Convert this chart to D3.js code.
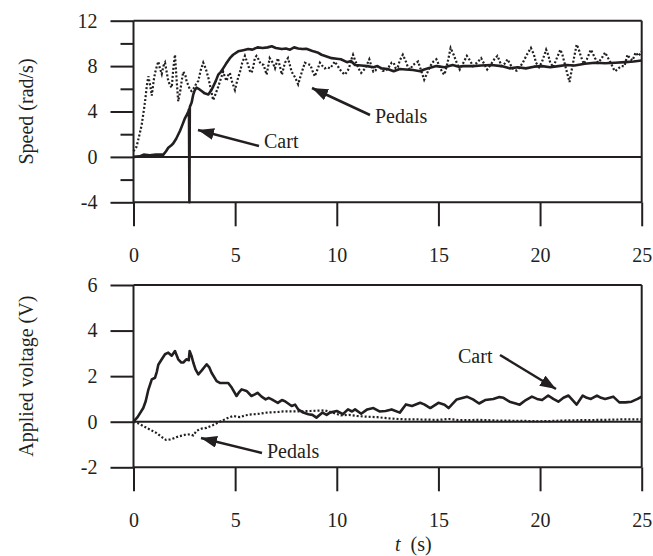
<!DOCTYPE html>
<html lang="en">
<head>
  <meta charset="UTF-8">
  <title>Speed and applied voltage vs time</title>
  <script src="https://d3js.org/d3.v7.min.js"></script>
  <style>
    body { margin: 0; background: #fff; }
    svg { display: block; }
    svg text { font-family: "Liberation Serif", "DejaVu Serif", "Times New Roman", serif !important; font-size: 20px; fill: #231f20; }
    .domain { display: none; }
    .tick line { stroke: #231f20; stroke-width: 2; }
  </style>
</head>
<body>
<div class="chart"></div>
<script>
  // time ticks shared by both panels
  const timeTicks = [0, 5, 10, 15, 20, 25];
  const speedTicks = [-4, 0, 4, 8, 12];
  const speedMinorTicks = [-2, 2, 6, 10];
  const voltTicks = [-2, 0, 2, 4, 6];

  // [t (s), speed (rad/s)]
  const speedCart = [
    [0, 0], [0.3, 0.05], [0.5, 0.2], [0.8, 0.15], [1.1, 0.2], [1.47, 0.2], [1.6, 0.5], [1.71, 0.8],
    [1.85, 1.0], [1.96, 1.2], [2.1, 1.6], [2.29, 2.3], [2.4, 2.8], [2.53, 3.4], [2.62, 3.7], [2.7, 4.0],
    [2.73, 4.2], [2.75, -4], [2.77, 4.4], [2.86, 4.8], [2.94, 5.5], [3.02, 5.9], [3.1, 6.1], [3.2, 6.0],
    [3.35, 5.8], [3.5, 5.6], [3.68, 5.5], [3.8, 5.8], [3.92, 6.2], [4.05, 6.7], [4.17, 7.25], [4.3, 7.5],
    [4.41, 7.8], [4.55, 8.2], [4.74, 8.7], [4.9, 9.0], [5.15, 9.3], [5.4, 9.4], [5.64, 9.5], [5.85, 9.45],
    [6.1, 9.65], [6.35, 9.6], [6.6, 9.65], [6.8, 9.75], [7.0, 9.6], [7.3, 9.5], [7.5, 9.55], [7.7, 9.45],
    [7.9, 9.65], [8.1, 9.55], [8.3, 9.5], [8.5, 9.52], [8.7, 9.4], [8.85, 9.3], [9.05, 9.2], [9.25, 9.0],
    [9.5, 8.85], [9.75, 8.7], [10.0, 8.65], [10.2, 8.6], [10.5, 8.35], [10.7, 8.45], [10.9, 8.1], [11.2, 8.05],
    [11.5, 8.0], [11.8, 7.9], [12.0, 8.0], [12.2, 7.8], [12.5, 7.75], [12.8, 7.55], [13.1, 7.75], [13.4, 7.7],
    [13.75, 7.65], [14.1, 7.55], [14.3, 7.7], [14.5, 7.8], [14.9, 8.0], [15.3, 7.9], [15.7, 8.1], [16.0, 7.95],
    [16.2, 8.0], [16.7, 8.0], [17.1, 8.05], [17.6, 8.1], [18.1, 8.0], [18.5, 7.8], [18.9, 7.9], [19.3, 7.8],
    [19.7, 7.95], [20.1, 8.0], [20.5, 7.9], [20.9, 8.0], [21.3, 8.1], [21.7, 8.05], [22.2, 8.2], [22.7, 8.3],
    [23.2, 8.25], [23.7, 8.3], [24.2, 8.35], [24.6, 8.4], [25.0, 8.5]
  ];
  const speedPedals = [
    [0, 0.5], [0.15, 0.9], [0.3, 2.0], [0.4, 2.8], [0.5, 4.0], [0.57, 4.9], [0.65, 6.2], [0.73, 7.1],
    [0.8, 6.5], [0.9, 5.4], [1.0, 6.8], [1.06, 7.4], [1.15, 8.0], [1.22, 8.4], [1.3, 7.8], [1.39, 7.3],
    [1.47, 8.0], [1.55, 8.3], [1.63, 7.5], [1.71, 6.7], [1.8, 6.3], [1.88, 6.1], [1.96, 7.8], [2.04, 9.0],
    [2.12, 6.8], [2.2, 4.9], [2.3, 5.8], [2.37, 6.7], [2.45, 7.5], [2.55, 7.2], [2.62, 6.6], [2.7, 6.3],
    [2.78, 5.9], [2.86, 5.8], [2.94, 6.0], [3.02, 6.2], [3.1, 6.5], [3.19, 6.7], [3.3, 7.6], [3.43, 8.3],
    [3.55, 7.8], [3.68, 7.0], [3.8, 6.0], [3.92, 5.0], [4.05, 5.6], [4.17, 6.2], [4.3, 6.9], [4.41, 7.5],
    [4.5, 7.0], [4.58, 6.7], [4.66, 7.2], [4.74, 7.4], [4.85, 6.6], [4.99, 5.9], [5.1, 6.7], [5.24, 7.5],
    [5.35, 8.3], [5.48, 8.9], [5.56, 8.5], [5.64, 8.1], [5.72, 7.6], [5.81, 7.4], [5.9, 8.0], [5.97, 8.7],
    [6.05, 8.9], [6.15, 8.6], [6.25, 8.2], [6.4, 8.1], [6.55, 7.25], [6.7, 8.7], [6.85, 8.3], [6.96, 7.8],
    [7.1, 8.7], [7.2, 8.0], [7.3, 7.25], [7.45, 8.3], [7.6, 8.7], [7.78, 7.5], [7.95, 7.0], [8.1, 6.4],
    [8.25, 7.3], [8.43, 8.3], [8.55, 8.2], [8.7, 8.1], [8.8, 7.6], [8.92, 7.1], [9.05, 7.7], [9.17, 8.3],
    [9.3, 8.0], [9.41, 7.8], [9.55, 7.9], [9.66, 7.8], [9.8, 8.1], [9.9, 8.4], [10.05, 8.0], [10.15, 7.7],
    [10.3, 7.4], [10.4, 7.25], [10.5, 7.5], [10.6, 7.8], [10.7, 8.5], [10.8, 9.0], [10.9, 8.5], [11.0, 8.1],
    [11.1, 7.7], [11.2, 7.4], [11.3, 7.6], [11.4, 7.8], [11.5, 8.2], [11.6, 8.6], [11.7, 8.0], [11.8, 7.5],
    [11.9, 7.6], [12.0, 7.9], [12.1, 8.0], [12.25, 7.6], [12.4, 7.55], [12.55, 7.9], [12.7, 8.3], [12.8, 8.3],
    [12.9, 7.8], [13.0, 7.9], [13.1, 8.5], [13.25, 9.0], [13.4, 8.4], [13.5, 7.9], [13.6, 7.7], [13.75, 8.1],
    [14.0, 8.4], [14.15, 7.6], [14.3, 6.8], [14.45, 7.4], [14.6, 8.0], [14.75, 8.4], [14.9, 8.6], [15.05, 8.0],
    [15.2, 7.4], [15.3, 7.25], [15.45, 8.3], [15.6, 9.6], [15.75, 9.0], [15.9, 8.3], [16.05, 7.7], [16.2, 8.2],
    [16.4, 8.9], [16.55, 8.5], [16.7, 8.0], [16.9, 8.3], [17.1, 8.7], [17.25, 8.2], [17.4, 7.7], [17.6, 8.2],
    [17.75, 8.6], [17.9, 8.9], [18.0, 8.5], [18.1, 8.0], [18.25, 8.2], [18.4, 8.6], [18.55, 8.1], [18.7, 7.7],
    [18.85, 7.6], [19.0, 7.9], [19.15, 8.3], [19.35, 9.0], [19.55, 9.6], [19.7, 9.0], [19.8, 8.3], [19.95, 7.9],
    [20.1, 8.4], [20.3, 9.45], [20.4, 9.0], [20.5, 8.3], [20.65, 7.9], [20.8, 8.6], [21.0, 9.45], [21.1, 9.0],
    [21.2, 8.3], [21.3, 7.6], [21.45, 6.6], [21.55, 7.6], [21.7, 9.0], [21.8, 9.9], [21.9, 9.5], [22.0, 8.9],
    [22.15, 8.2], [22.3, 8.6], [22.5, 9.45], [22.6, 9.1], [22.7, 8.7], [22.85, 8.3], [23.0, 8.6], [23.2, 9.2],
    [23.35, 8.7], [23.5, 8.2], [23.6, 7.8], [23.7, 7.55], [23.85, 7.8], [24.0, 8.0], [24.15, 8.0], [24.3, 9.0],
    [24.45, 8.6], [24.55, 8.5], [24.7, 9.2], [24.85, 8.9], [25.0, 9.3]
  ];

  // [t (s), applied voltage (V)]
  const voltCart = [
    [0, 0], [0.2, 0.2], [0.48, 0.6], [0.6, 0.9], [0.73, 1.4], [0.9, 1.86], [1.06, 1.93], [1.15, 2.2],
    [1.22, 2.5], [1.39, 2.74], [1.55, 2.96], [1.71, 3.03], [1.88, 2.9], [2.04, 3.1], [2.2, 2.74], [2.35, 2.6],
    [2.45, 2.6], [2.6, 2.74], [2.72, 2.7], [2.76, 3.1], [2.85, 2.9], [2.94, 2.6], [3.05, 2.3], [3.19, 2.08],
    [3.35, 2.24], [3.6, 2.52], [3.72, 2.4], [3.84, 2.15], [4.09, 1.78], [4.25, 1.7], [4.41, 1.7], [4.66, 1.7],
    [4.83, 1.5], [5.07, 1.13], [5.2, 1.3], [5.32, 1.42], [5.56, 1.35], [5.8, 1.13], [5.97, 1.2], [6.1, 1.27],
    [6.3, 1.1], [6.5, 0.98], [6.65, 1.05], [6.8, 0.98], [7.1, 0.83], [7.3, 0.95], [7.45, 0.9], [7.78, 0.69],
    [7.95, 0.75], [8.1, 0.54], [8.35, 0.4], [8.6, 0.33], [8.8, 0.3], [9.0, 0.18], [9.3, 0.4], [9.5, 0.3],
    [9.66, 0.4], [10.0, 0.47], [10.3, 0.33], [10.55, 0.54], [10.75, 0.45], [10.9, 0.54], [11.2, 0.35], [11.5, 0.54],
    [11.8, 0.6], [12.1, 0.45], [12.4, 0.47], [12.7, 0.54], [13.1, 0.4], [13.4, 0.76], [13.7, 0.69], [14.1, 0.83],
    [14.3, 0.76], [14.6, 0.6], [15.0, 0.83], [15.3, 0.75], [15.5, 0.6], [15.9, 0.98], [16.4, 1.1], [16.7, 0.98],
    [17.0, 0.8], [17.3, 0.95], [17.7, 1.0], [18.0, 1.08], [18.2, 1.05], [18.5, 0.88], [18.8, 0.8], [19.0, 0.75],
    [19.3, 0.95], [19.6, 1.1], [19.85, 1.0], [20.1, 0.95], [20.4, 1.15], [20.65, 1.0], [20.9, 0.88], [21.15, 1.05],
    [21.4, 1.15], [21.6, 0.95], [21.8, 0.75], [22.1, 1.15], [22.3, 1.05], [22.5, 1.0], [22.8, 1.15], [23.0, 1.05],
    [23.2, 1.0], [23.6, 1.1], [23.9, 0.85], [24.2, 0.85], [24.5, 0.88], [24.8, 1.0], [25.0, 1.1]
  ];
  const voltPedals = [
    [0, 0], [0.25, -0.08], [0.48, -0.19], [0.8, -0.34], [1.14, -0.5], [1.4, -0.68], [1.6, -0.8], [1.8, -0.78],
    [2.0, -0.72], [2.2, -0.65], [2.5, -0.58], [2.78, -0.55], [2.94, -0.6], [3.1, -0.4], [3.35, -0.3], [3.6, -0.27],
    [3.9, -0.15], [4.25, 0], [4.6, 0.15], [4.9, 0.25], [5.24, 0.2], [5.5, 0.28], [5.8, 0.32], [6.2, 0.35],
    [6.55, 0.4], [7.0, 0.42], [7.36, 0.45], [8.0, 0.45], [8.7, 0.47], [9.4, 0.5], [9.8, 0.4], [10.2, 0.28],
    [10.6, 0.3], [11.0, 0.25], [11.5, 0.22], [12.0, 0.2], [12.5, 0.15], [13.0, 0.12], [13.5, 0.1], [14.0, 0.1],
    [15.0, 0.08], [15.5, 0.12], [16.0, 0.07], [17.0, 0.08], [18.0, 0.05], [19.0, 0.04], [20.0, 0.02], [20.5, 0.03],
    [21.0, 0.05], [22.0, 0.07], [23.0, 0.08], [24.0, 0.1], [25.0, 0.1]
  ];

  const width = 653, height = 556;
  const ink = '#231f20';

  const svg = d3.select('.chart').append('svg')
    .attr('width', width)
    .attr('height', height)
    .attr('font-family', 'Liberation Serif, DejaVu Serif, serif');

  svg.append('defs').append('marker')
    .attr('id', 'head')
    .attr('viewBox', '0 0 16 12')
    .attr('refX', 16).attr('refY', 6)
    .attr('markerUnits', 'userSpaceOnUse')
    .attr('markerWidth', 16).attr('markerHeight', 12)
    .attr('orient', 'auto')
    .append('path')
    .attr('d', 'M0,0L16,6L0,12Z')
    .attr('fill', ink);

  const x = d3.scaleLinear().domain([0, 25]).range([133.5, 641.7]);

  function panel(y, opts) {
    const g = svg.append('g');
    const [x0, x1] = x.range();
    const [yb, yt] = y.range();

    // y axis, long major ticks with labels (plain hyphen for negatives)
    g.append('g')
      .attr('transform', `translate(${x0},0)`)
      .call(d3.axisLeft(y).tickValues(opts.yTicks).tickSize(23).tickPadding(13).tickFormat(d => String(d)));
    if (opts.minor) {
      g.append('g')
        .attr('transform', `translate(${x0},0)`)
        .call(d3.axisLeft(y).tickValues(opts.minor).tickSize(13).tickFormat(''));
    }
    // x axis hangs below the bottom frame
    g.append('g')
      .attr('transform', `translate(0,${yb})`)
      .call(d3.axisBottom(x).tickValues(timeTicks).tickSize(24).tickPadding(22));

    g.selectAll('g').attr('font-family', null).attr('font-size', null);

    // frame + zero line
    const frame = [
      [x0, yt, x1, yt], [x0, yb, x1, yb], [x0, y(0), x1, y(0)],
      [x0, yt, x0, yb], [x1, yt, x1, yb]
    ];
    g.selectAll('.frame').data(frame).enter().append('line')
      .attr('x1', d => d[0]).attr('y1', d => d[1])
      .attr('x2', d => d[2]).attr('y2', d => d[3])
      .attr('stroke', ink).attr('stroke-width', 2);

    const line = d3.line().x(d => x(d[0])).y(d => y(d[1]));
    g.append('path').datum(opts.pedals)
      .attr('d', line).attr('fill', 'none')
      .attr('stroke', ink).attr('stroke-width', 2.2)
      .attr('stroke-dasharray', '2,2');
    g.append('path').datum(opts.cart)
      .attr('d', line).attr('fill', 'none')
      .attr('stroke', ink).attr('stroke-width', 2.6)
      .attr('stroke-linejoin', 'round');

    g.append('text')
      .attr('transform', `translate(${opts.labelX},${(yt + yb) / 2}) rotate(-90)`)
      .attr('text-anchor', 'middle')
      .attr('dy', '0.35em')
      .text(opts.label);

    opts.notes.forEach(n => {
      g.append('line')
        .attr('x1', n.from[0]).attr('y1', n.from[1])
        .attr('x2', n.to[0]).attr('y2', n.to[1])
        .attr('stroke', ink).attr('stroke-width', 2.5)
        .attr('marker-end', 'url(#head)');
      g.append('text').attr('x', n.tx).attr('y', n.ty).text(n.text);
    });
  }

  panel(d3.scaleLinear().domain([-4, 12]).range([202.3, 20.7]), {
    yTicks: speedTicks,
    minor: speedMinorTicks,
    cart: speedCart,
    pedals: speedPedals,
    label: 'Speed (rad/s)',
    labelX: 26,
    notes: [
      { text: 'Cart', tx: 264, ty: 148, from: [259, 146], to: [198, 130] },
      { text: 'Pedals', tx: 375, ty: 123, from: [370, 115], to: [312, 88] }
    ]
  });

  panel(d3.scaleLinear().domain([-2, 6]).range([467.3, 285]), {
    yTicks: voltTicks,
    cart: voltCart,
    pedals: voltPedals,
    label: 'Applied voltage (V)',
    labelX: 26,
    notes: [
      { text: 'Pedals', tx: 267, ty: 458, from: [262, 453], to: [201, 438] },
      { text: 'Cart', tx: 458, ty: 363, from: [500, 355], to: [556, 389] }
    ]
  });

  // time axis title at the bottom edge
  const title = svg.append('text')
    .attr('x', 395).attr('y', 551);
  title.append('tspan').style('font-style', 'italic').text('t');
  title.append('tspan').text('\u00a0 (s)');
</script>
</body>
</html>
